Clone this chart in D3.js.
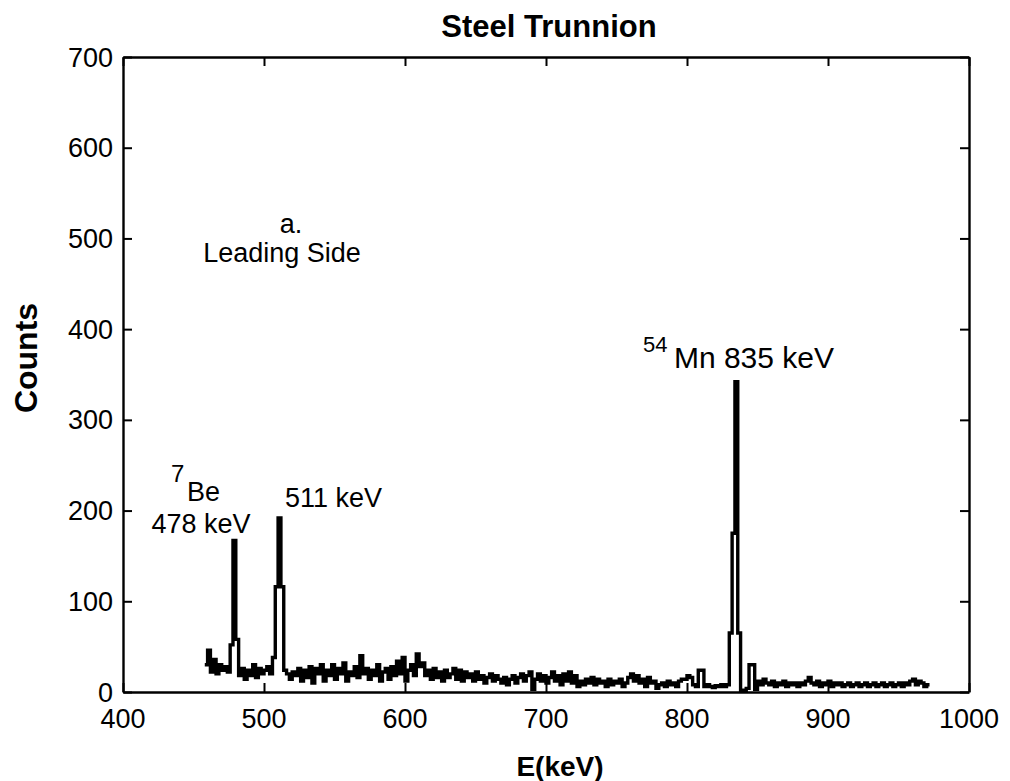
<!DOCTYPE html>
<html>
<head>
<meta charset="utf-8">
<script src="https://cdn.jsdelivr.net/npm/d3@7"></script>
<style>
  html, body { margin: 0; padding: 0; background: #fff; }
  svg { display: block; }
  text { font-family: "Liberation Sans", Arial, Helvetica, sans-serif; fill: #000; }
</style>
</head>
<body>
<svg id="chart" width="1010" height="781"></svg>
<script>
// ---- data ----
const title = "Steel Trunnion";
const xLabel = "E(keV)";
const yLabel = "Counts";
const xTicks = [400, 500, 600, 700, 800, 900, 1000];
const yTicks = [0, 100, 200, 300, 400, 500, 600, 700];
const channelStart = 458;   // keV, first channel
const channelWidth = 2;     // keV per channel
const counts = [
  30, 46, 22, 36, 20, 30, 24, 28, 22, 52,
  167, 58, 18, 26, 14, 24, 18, 30, 16, 26,
  20, 24, 28, 20, 38, 116, 192, 116, 24, 20,
  14, 22, 18, 26, 12, 24, 16, 28, 10, 26,
  20, 30, 12, 24, 18, 30, 14, 26, 20, 32,
  12, 22, 18, 28, 16, 40, 20, 26, 14, 24,
  18, 30, 12, 22, 26, 14, 28, 18, 34, 20,
  38, 12, 24, 30, 18, 42, 28, 32, 18, 24,
  14, 26, 16, 22, 12, 24, 16, 20, 26, 14,
  24, 12, 22, 16, 20, 12, 22, 14, 18, 10,
  16, 20, 12, 18, 14, 10, 16, 8, 14, 18,
  10, 16, 20, 12, 18, 22, 3, 14, 20, 12,
  18, 10, 16, 22, 12, 18, 8, 20, 12, 22,
  10, 18, 6, 12, 8, 14, 10, 16, 8, 14,
  10, 12, 6, 14, 8, 12, 10, 14, 6, 10,
  16, 20, 12, 18, 10, 14, 6, 16, 10, 12,
  4, 8, 10, 6, 12, 8, 10, 6, 12, 14,
  14, 18, 16, 8, 6, 24, 24, 6, 8, 6,
  5, 7, 6, 8, 6, 8, 65, 175, 342, 65,
  2, 2, 4, 30, 30, 3, 12, 8, 14, 10,
  8, 12, 6, 10, 8, 12, 6, 10, 8, 10,
  6, 10, 8, 12, 16, 10, 8, 12, 6, 10,
  8, 12, 6, 10, 8, 10, 6, 8, 10, 6,
  8, 10, 6, 8, 10, 6, 8, 10, 6, 8,
  10, 6, 8, 10, 6, 8, 10, 6, 10, 8,
  12, 14, 8, 12, 10, 6, 8
];

// ---- layout ----
const svg = d3.select("#chart");
const L = 123, R = 969, T = 57, B = 692;
const x = d3.scaleLinear().domain([400, 1000]).range([L, R]);
const y = d3.scaleLinear().domain([0, 700]).range([B, T]);

const fontTick = 27, fontAnn = 27;

// spectrum (histogram step line)
const pts = counts.map((c, i) => [channelStart + i * channelWidth, c]);
pts.push([channelStart + counts.length * channelWidth, counts[counts.length - 1]]);
svg.append("path")
  .datum(pts)
  .attr("fill", "none")
  .attr("stroke", "#000")
  .attr("stroke-width", 3.4)
  .attr("stroke-linejoin", "miter")
  .attr("d", d3.line().x(d => x(d[0])).y(d => y(d[1])).curve(d3.curveStepAfter));

// axes (box with inward ticks)
const tickLen = 9;
const axB = d3.axisBottom(x).tickValues(xTicks).tickSizeInner(-tickLen).tickSizeOuter(0).tickFormat("");
const axT = d3.axisTop(x).tickValues(xTicks).tickSizeInner(-tickLen).tickSizeOuter(0).tickFormat("");
const axLft = d3.axisLeft(y).tickValues(yTicks).tickSizeInner(-tickLen).tickSizeOuter(0).tickFormat("");
const axRgt = d3.axisRight(y).tickValues(yTicks).tickSizeInner(-tickLen).tickSizeOuter(0).tickFormat("");
[[axB, `translate(0,${B})`], [axT, `translate(0,${T})`], [axLft, `translate(${L},0)`], [axRgt, `translate(${R},0)`]]
  .forEach(([ax, tr]) => {
    const g = svg.append("g").attr("transform", tr).call(ax);
    g.selectAll("path.domain").attr("stroke", "#000").attr("stroke-width", 2.4);
    g.selectAll(".tick line").attr("stroke", "#000").attr("stroke-width", 2);
  });

// tick labels
svg.append("g").selectAll("text").data(xTicks).join("text")
  .attr("x", d => x(d)).attr("y", 728)
  .attr("text-anchor", "middle").attr("font-size", fontTick)
  .text(d => d);
svg.append("g").selectAll("text").data(yTicks).join("text")
  .attr("x", L - 10).attr("y", d => y(d) + 9.5)
  .attr("text-anchor", "end").attr("font-size", fontTick)
  .text(d => d);

// titles
svg.append("text").attr("x", 549).attr("y", 37).attr("text-anchor", "middle")
  .attr("font-size", 31).attr("font-weight", "bold").text(title);
svg.append("text").attr("x", 560).attr("y", 776).attr("text-anchor", "middle")
  .attr("font-size", 28).attr("font-weight", "bold").text(xLabel);
svg.append("text").attr("transform", "translate(37,358) rotate(-90)").attr("text-anchor", "middle")
  .attr("font-size", 32).attr("font-weight", "bold").text(yLabel);

// annotations
svg.append("text").attr("x", 291).attr("y", 233).attr("text-anchor", "middle")
  .attr("font-size", fontAnn).text("a.");
svg.append("text").attr("x", 282).attr("y", 262).attr("text-anchor", "middle")
  .attr("font-size", fontAnn).text("Leading Side");

svg.append("text").attr("x", 171).attr("y", 482).attr("font-size", 24).text("7");
svg.append("text").attr("x", 187).attr("y", 501).attr("font-size", fontAnn).text("Be");
svg.append("text").attr("x", 201).attr("y", 533).attr("text-anchor", "middle")
  .attr("font-size", fontAnn).text("478 keV");

svg.append("text").attr("x", 285).attr("y", 507).attr("font-size", fontAnn).text("511 keV");

svg.append("text").attr("x", 643).attr("y", 352).attr("font-size", 22).text("54");
svg.append("text").attr("x", 834).attr("y", 368).attr("text-anchor", "end")
  .attr("font-size", 30).text("Mn 835 keV");
</script>
</body>
</html>
